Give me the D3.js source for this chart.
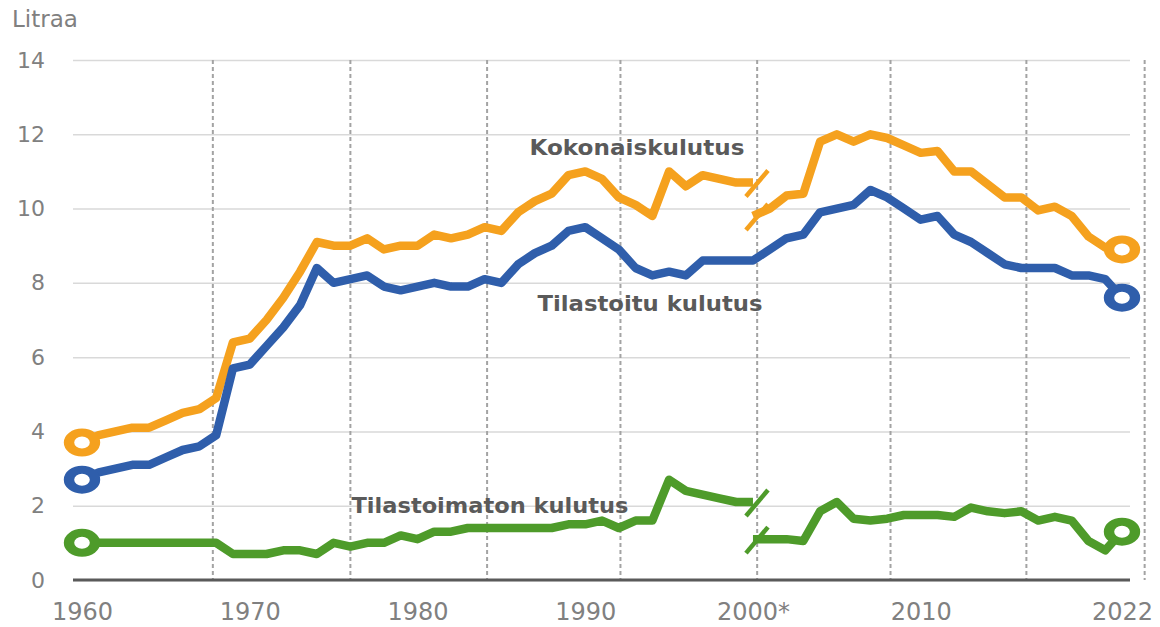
<!DOCTYPE html>
<html><head><meta charset="utf-8">
<script src="https://cdn.jsdelivr.net/npm/d3@7"></script>
<style>
body{margin:0;background:#fff;}
svg{display:block;font-family:"DejaVu Sans",sans-serif;}
</style></head><body>
<svg id="chart" width="1160" height="627"></svg>
<script>
// ---- data ----
const yearsFull = [1960,1961,1962,1963,1964,1965,1966,1967,1968,1969,
  1970,1971,1972,1973,1974,1975,1976,1977,1978,1979,
  1980,1981,1982,1983,1984,1985,1986,1987,1988,1989,
  1990,1991,1992,1993,1994,1995,1996,1997,1998,1999,
  2000,2001,2002,2003,2004,2005,2006,2007,2008,2009,
  2010,2011,2012,2013,2014,2015,2016,2017,2018,2019,
  2020,2021,2022];
const yearsOld = yearsFull.filter(y => y <= 2000);
const yearsNew = yearsFull.filter(y => y >= 2000);

// Tilastoitu kulutus (1960–2022, continuous)
const tilastoitu = [2.7,2.9,3.0,3.1,3.1,3.3,3.5,3.6,3.9,5.7,
  5.8,6.3,6.8,7.4,8.4,8.0,8.1,8.2,7.9,7.8,
  7.9,8.0,7.9,7.9,8.1,8.0,8.5,8.8,9.0,9.4,
  9.5,9.2,8.9,8.4,8.2,8.3,8.2,8.6,8.6,8.6,
  8.6,8.9,9.2,9.3,9.9,10.0,10.1,10.5,10.3,10.0,
  9.7,9.8,9.3,9.1,8.8,8.5,8.4,8.4,8.4,8.2,
  8.2,8.1,7.6];
// Kokonaiskulutus, old method 1960–2000 and new method 2000–2022
const kokonaisOld = [3.7,3.9,4.0,4.1,4.1,4.3,4.5,4.6,4.9,6.4,
  6.5,7.0,7.6,8.3,9.1,9.0,9.0,9.2,8.9,9.0,
  9.0,9.3,9.2,9.3,9.5,9.4,9.9,10.2,10.4,10.9,
  11.0,10.8,10.3,10.1,9.8,11.0,10.6,10.9,10.8,10.7,
  10.7];
const kokonaisNew = [9.8,10.0,10.35,10.4,11.8,12.0,11.8,12.0,11.9,11.7,
  11.5,11.55,11.0,11.0,10.65,10.3,10.3,9.95,10.05,9.8,
  9.25,8.95,8.9];
// Tilastoimaton kulutus
const tilastoimatonOld = [1.0,1.0,1.0,1.0,1.0,1.0,1.0,1.0,1.0,0.7,
  0.7,0.7,0.8,0.8,0.7,1.0,0.9,1.0,1.0,1.2,
  1.1,1.3,1.3,1.4,1.4,1.4,1.4,1.4,1.4,1.5,
  1.5,1.6,1.4,1.6,1.6,2.7,2.4,2.3,2.2,2.1,
  2.1];
const tilastoimatonNew = [1.1,1.1,1.1,1.05,1.85,2.1,1.65,1.6,1.65,1.75,
  1.75,1.75,1.7,1.95,1.85,1.8,1.85,1.6,1.7,1.6,
  1.05,0.8,1.3];

const yTicks = [0,2,4,6,8,10,12,14];
const xTickYears = [1960,1970,1980,1990,2000,2010,2022];
const xTickLabels = ["1960","1970","1980","1990","2000*","2010","2022"];
const dividerYears = [1967.8,1976,1984.15,1992.1,2000.25,2008.2,2016.3,2023.35];

// ---- chart ----
const svg = d3.select("#chart");
const gridLeft = 73, gridRight = 1130;
const x = d3.scaleLinear().domain([1960,2022]).range([82,1122]);
const y = d3.scaleLinear().domain([0,14]).range([580,60]);

const colors = {orange:"#F5A11E", blue:"#2F5EAB", green:"#4E9B2A"};
const txtGray = "#808080", annGray = "#5a5a5a";

// y axis + gridlines
const yAx = svg.append("g").attr("transform",`translate(${gridLeft},0)`)
  .call(d3.axisLeft(y).tickValues(yTicks).tickSize(-(gridRight-gridLeft)).tickPadding(28));
yAx.select(".domain").remove();
yAx.selectAll(".tick line").attr("stroke","#d9d9d9").attr("stroke-width",1.5);
yAx.selectAll(".tick text").attr("fill",txtGray).style("font-size","22px")
  .style("font-family","'DejaVu Sans',sans-serif");

// dashed dividers
svg.append("g").selectAll("line").data(dividerYears).join("line")
  .attr("x1",d=>x(d)).attr("x2",d=>x(d))
  .attr("y1",y(14)).attr("y2",y(0))
  .attr("stroke","#a3a3a3").attr("stroke-width",2).attr("stroke-dasharray","4,3");

// baseline
svg.append("line").attr("x1",gridLeft).attr("x2",gridRight)
  .attr("y1",y(0)).attr("y2",y(0)).attr("stroke","#5a5a5a").attr("stroke-width",3);

// x axis
const xAx = svg.append("g").attr("transform",`translate(0,${y(0)})`)
  .call(d3.axisBottom(x).tickValues(xTickYears).tickFormat((d,i)=>xTickLabels[i]).tickSize(0));
xAx.select(".domain").remove();
xAx.selectAll(".tick text").attr("y",40).attr("dy",0).attr("fill",txtGray)
  .style("font-size","24px").style("font-family","'DejaVu Sans',sans-serif");

// y-axis title
svg.append("text").attr("x",12).attr("y",27).text("Litraa")
  .attr("fill",txtGray).style("font-size","23px");

// lines
const line = d3.line().x(d=>x(d[0])).y(d=>y(d[1]));
const zip = (ys, vs) => ys.map((yr,i)=>[yr, vs[i]]);
const series = [
  {pts: zip(yearsOld, kokonaisOld), c: colors.orange},
  {pts: zip(yearsNew, kokonaisNew), c: colors.orange},
  {pts: zip(yearsFull, tilastoitu), c: colors.blue},
  {pts: zip(yearsOld, tilastoimatonOld), c: colors.green},
  {pts: zip(yearsNew, tilastoimatonNew), c: colors.green}
];
svg.append("g").selectAll("path").data(series).join("path")
  .attr("d",d=>line(d.pts)).attr("fill","none").attr("stroke",d=>d.c)
  .attr("stroke-width",8.5).attr("stroke-linejoin","round");

// break slashes at 2000
const breaks = [
  {v: kokonaisOld[kokonaisOld.length-1], c: colors.orange},
  {v: kokonaisNew[0], c: colors.orange},
  {v: tilastoimatonOld[tilastoimatonOld.length-1], c: colors.green},
  {v: tilastoimatonNew[0], c: colors.green}
];
svg.append("g").selectAll("line").data(breaks).join("line")
  .attr("x1",d=>x(2000)-7).attr("y1",d=>y(d.v)+14)
  .attr("x2",d=>x(2000)+15).attr("y2",d=>y(d.v)-12)
  .attr("stroke",d=>d.c).attr("stroke-width",4.5);

// end markers
const markers = [
  {yr:1960, v:kokonaisOld[0], c:colors.orange},
  {yr:2022, v:kokonaisNew[kokonaisNew.length-1], c:colors.orange},
  {yr:1960, v:tilastoitu[0], c:colors.blue},
  {yr:2022, v:tilastoitu[tilastoitu.length-1], c:colors.blue},
  {yr:1960, v:tilastoimatonOld[0], c:colors.green},
  {yr:2022, v:tilastoimatonNew[tilastoimatonNew.length-1], c:colors.green}
];
svg.append("g").selectAll("circle").data(markers).join("circle")
  .attr("transform",d=>`translate(${x(d.yr)},${y(d.v)}) scale(1.3,1)`)
  .attr("r",10).attr("fill","#fff").attr("stroke",d=>d.c).attr("stroke-width",8);

// annotations
const ann = [
  {t:"Kokonaiskulutus", cx:637, by:155, w:215},
  {t:"Tilastoitu kulutus", cx:650, by:311, w:225},
  {t:"Tilastoimaton kulutus", cx:490, by:513, w:277}
];
svg.append("g").selectAll("text").data(ann).join("text")
  .attr("x",d=>d.cx - d.w/2).attr("y",d=>d.by).text(d=>d.t)
  .attr("textLength",d=>d.w).attr("lengthAdjust","spacingAndGlyphs")
  .attr("fill",annGray).style("font-size","22px").style("font-weight","bold");
</script>
</body></html>
